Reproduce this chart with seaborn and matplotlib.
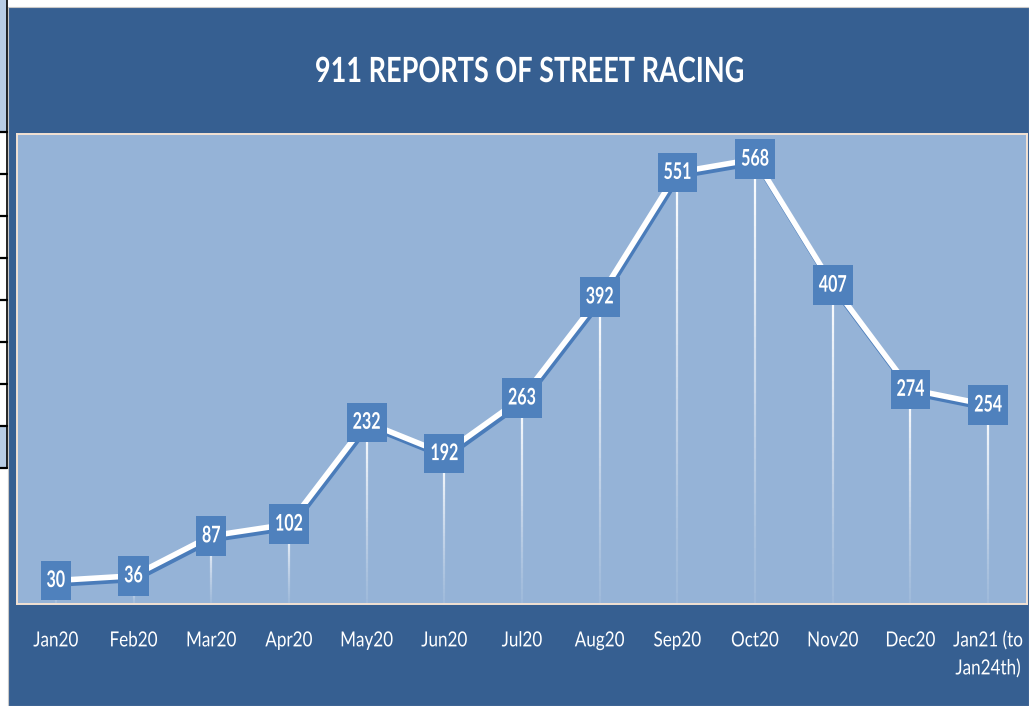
import matplotlib
matplotlib.use("Agg")
import matplotlib.pyplot as plt
import matplotlib.patheffects as pe
from matplotlib.collections import LineCollection
from matplotlib.patches import Rectangle
from matplotlib.transforms import Affine2D
from matplotlib.path import Path
import seaborn as sns
import pandas as pd
import numpy as np

months = ["Jan20", "Feb20", "Mar20", "Apr20", "May20", "Jun20", "Jul20",
          "Aug20", "Sep20", "Oct20", "Nov20", "Dec20", "Jan21 (to\nJan24th)"]
reports = [30, 36, 87, 102, 232, 192, 263, 392, 551, 568, 407, 274, 254]
title = "911 REPORTS OF STREET RACING"

DARK = "#365F91"
PLOT = "#95B3D7"
BOX = "#4F81BD"
FONT = ["Lato", "DejaVu Sans"]

sns.set_theme(style="white")
plt.rcParams["font.family"] = FONT

W, H = 1029, 706
fig = plt.figure(figsize=(W / 100, H / 100), dpi=100, facecolor="white")


def fx(px):
    return px / W


def fy(py):
    return 1 - py / H


class Squeeze(pe.AbstractPathEffect):
    """Horizontally condense a text artist around its own centre."""

    def __init__(self, artist, sx=0.8):
        super().__init__()
        self.artist = artist
        self.sx = sx

    def draw_path(self, renderer, gc, tpath, affine, rgbFace=None):
        bb = self.artist.get_window_extent(renderer)
        cx = 0.5 * (bb.x0 + bb.x1)
        t = affine + Affine2D().translate(-cx, 0).scale(self.sx, 1).translate(cx, 0)
        renderer.draw_path(gc, tpath, t, rgbFace)


SX_BOX = 0.7


class LabelBox:
    """Box sized to the condensed label text."""

    def __call__(self, x0, y0, width, height, mutation_size):
        cx = x0 + width / 2
        cy = y0 + height / 2
        w = width * SX_BOX + 0.52 * mutation_size
        h = 1.72 * mutation_size
        verts = [(cx - w / 2, cy - h / 2), (cx + w / 2, cy - h / 2),
                 (cx + w / 2, cy + h / 2), (cx - w / 2, cy + h / 2),
                 (cx - w / 2, cy - h / 2)]
        return Path(verts, closed=True)


# outer dark panel
fig.patches.append(Rectangle((fx(8), 0), fx(1021), 699 / H,
                             transform=fig.transFigure, facecolor=DARK,
                             edgecolor="#c8c8c8", linewidth=0.8, zorder=-5))
# left-side spreadsheet artifacts
fig.patches.append(Rectangle((0, fy(132)), fx(7), 132 / H, transform=fig.transFigure,
                             facecolor="#B8CCE4", edgecolor="none", zorder=-5))
fig.patches.append(Rectangle((0, fy(468)), fx(7), 42 / H, transform=fig.transFigure,
                             facecolor="#B8CCE4", edgecolor="none", zorder=-5))
for yy in [132, 174, 216, 258, 300, 342, 384, 426, 468]:
    fig.lines.append(plt.Line2D([0, fx(7)], [fy(yy), fy(yy)], transform=fig.transFigure,
                                color="black", linewidth=1.6, zorder=-4))
fig.lines.append(plt.Line2D([fx(7), fx(7)], [fy(0), fy(468)], transform=fig.transFigure,
                            color="black", linewidth=1.2, zorder=-4))

ax = fig.add_axes([fx(17), (H - 604) / H, fx(1010), 470 / H])
ax.set_zorder(2)
ax.set_facecolor(PLOT)

df = pd.DataFrame({"month": months, "reports": reports})
x = np.arange(len(months))

# gradient drop lines
n = 40
segs, cols = [], []
for xi, v in zip(x, reports):
    ys = np.linspace(0, v, n + 1)
    for k in range(n):
        segs.append([(xi, ys[k]), (xi, ys[k + 1])])
        a = 0.08 + 0.92 * (ys[k + 1] / max(v, 1)) ** 1.2
        cols.append((1, 1, 1, a))
ax.add_collection(LineCollection(segs, colors=cols, linewidths=1.6, zorder=1))

sns.lineplot(x=x, y=df["reports"], ax=ax, color="white", linewidth=4.0,
             sort=False, zorder=2,
             path_effects=[pe.SimpleLineShadow(offset=(1.2, -2.6), shadow_color="#4A7CBA",
                                               alpha=1, linewidth=4.0),
                           pe.Normal()])

for xi, v in zip(x, reports):
    t = ax.text(xi, v, str(v), ha="center", va="center", color="white",
                fontsize=16.5, fontweight="bold", zorder=4,
                bbox=dict(boxstyle=LabelBox(), facecolor=BOX, edgecolor="none"))
    t.set_path_effects([Squeeze(t, SX_BOX)])

ax.set_xlim(-0.5, len(months) - 0.5)
ax.set_ylim(0, 600)
ax.set_xticks(x)
ax.set_xticklabels(months, color="white", fontsize=15)
ax.tick_params(axis="x", length=0, pad=19)
ax.set_yticks([])
ax.set_xlabel("")
ax.set_ylabel("")
for lab in ax.get_xticklabels():
    lab.set_linespacing(1.5)
    lab.set_path_effects([Squeeze(lab, 0.82)])
for s in ax.spines.values():
    s.set_visible(True)
    s.set_color("#F3E2D3")
    s.set_linewidth(1.4)

tt = fig.text(fx(530), fy(72), title, ha="center", va="center", color="white",
              fontsize=25, fontweight="bold")
tt.set_path_effects([Squeeze(tt, 0.78)])

fig.savefig("out.png", dpi=100, facecolor="white")
